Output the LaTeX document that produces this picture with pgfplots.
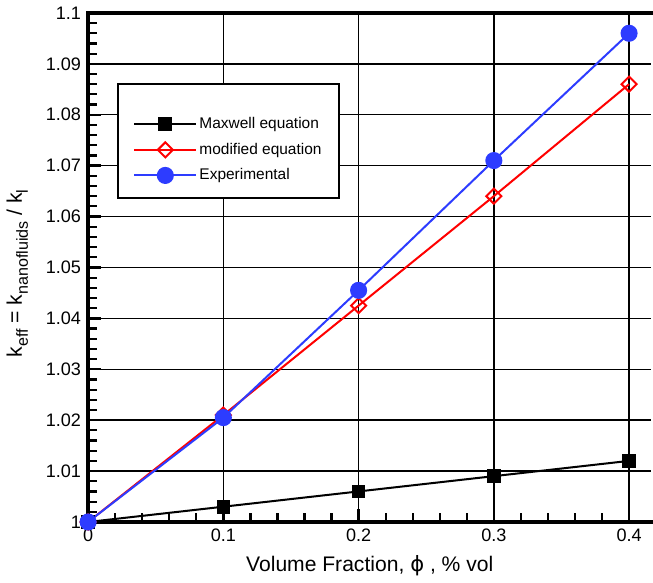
\documentclass[border=0pt]{standalone}
\usepackage{fontspec}
\setmainfont{Liberation Sans}
\newfontfamily\dejavu{DejaVu Sans}
\usepackage{pgfplots}
\pgfplotsset{compat=1.18}
\definecolor{expblue}{RGB}{45,60,255}
\newcommand{\sub}[1]{\raisebox{-0.28em}{\fontsize{8}{9}\selectfont #1}}
\pgfplotsset{
  lineimage/.style={legend image code/.code={
      \draw[mark repeat=2, mark phase=2, ##1] plot coordinates {(0pt,0pt) (15.5pt,0pt) (31pt,0pt)};}},
  tallimage/.style={legend image code/.code={
      \path (0pt,14.5pt);
      \draw[mark repeat=2, mark phase=2, ##1] plot coordinates {(0pt,0pt) (15.5pt,0pt) (31pt,0pt)};}},
}

\begin{document}
\begin{tikzpicture}
\begin{axis}[
    scale only axis,
    width=280.5pt,
    height=253.5pt,
    xmin=0, xmax=0.4165,
    ymin=1, ymax=1.1,
    clip=false,
    xtick={0,0.1,0.2,0.3,0.4},
    ytick={1,1.01,1.02,1.03,1.04,1.05,1.06,1.07,1.08,1.09,1.1},
    minor xtick={0.02,0.04,0.06,0.08,0.12,0.14,0.16,0.18,0.22,0.24,0.26,0.28,0.32,0.34,0.36,0.38},
    minor ytick={1.002,1.004,1.006,1.008,1.012,1.014,1.016,1.018,1.022,1.024,1.026,1.028,
                 1.032,1.034,1.036,1.038,1.042,1.044,1.046,1.048,1.052,1.054,1.056,1.058,
                 1.062,1.064,1.066,1.068,1.072,1.074,1.076,1.078,1.082,1.084,1.086,1.088,
                 1.092,1.094,1.096,1.098},
    xticklabels={0,0.1,0.2,0.3,0.4},
    yticklabels={1,1.01,1.02,1.03,1.04,1.05,1.06,1.07,1.08,1.09,1.1},
    xtick pos=bottom, ytick pos=left,
    tick align=inside,
    major tick length=6pt,
    minor tick length=4pt,
    xtick style={draw=black, line width=1.1pt},
    ytick style={draw=black, line width=1.1pt},
    axis line style={draw=none},
    grid=major,
    major grid style={black, line width=0.75pt},
    ticklabel style={font=\fontsize{9}{10}\selectfont},
    /pgf/number format/assume math mode=true,
    xlabel={Volume Fraction, {\dejavu ϕ} , \% vol},
    ylabel={k\sub{eff} = k\sub{nanofluids} / k\sub{l}},
    label style={font=\fontsize{10.5}{12}\selectfont},
    ylabel style={yshift=2pt, xshift=-3pt},
    legend style={at={(0.0517,0.862)}, anchor=north west, draw=black, line width=0.9pt,
        fill=white, font=\fontsize{7.7}{9}\selectfont,
        inner xsep=7.5pt, inner ysep=5pt, row sep=0pt,
        nodes={inner xsep=1pt, inner ysep=0pt, text height=8.5pt, text depth=4.25pt}},
    legend cell align=left,
    lineimage,
]
\addplot[black, line width=1pt, mark=square*, mark size=2.9pt, mark options={solid, fill=black}, tallimage]
  coordinates {(0,1) (0.1,1.003) (0.2,1.006) (0.3,1.009) (0.4,1.012)};
\addplot[red, line width=1pt, mark=square, mark size=2.65pt, mark options={solid, rotate=45, fill=white, line width=1pt}]
  coordinates {(0,1) (0.1,1.021) (0.2,1.0425) (0.3,1.064) (0.4,1.086)};
\addplot[expblue, line width=1pt, mark=*, mark size=3.75pt, mark options={solid, fill=expblue}]
  coordinates {(0,1) (0.1,1.0205) (0.2,1.0455) (0.3,1.071) (0.4,1.096)};
\legend{Maxwell equation, modified equation, Experimental}
% tick marks (inside)
\pgfplotsinvokeforeach{0.02,0.04,0.06,0.08,0.12,0.14,0.16,0.18,0.22,0.24,0.26,0.28,0.32,0.34,0.36,0.38}{
  \draw[black, line width=1.1pt] (axis cs:#1,1) -- ++(0pt,4.5pt);
}
\pgfplotsinvokeforeach{0.1,0.2,0.3,0.4}{
  \draw[black, line width=1.2pt] (axis cs:#1,1) -- ++(0pt,6.5pt);
}
\pgfplotsinvokeforeach{1.002,1.004,1.006,1.008,1.012,1.014,1.016,1.018,1.022,1.024,1.026,1.028,
                 1.032,1.034,1.036,1.038,1.042,1.044,1.046,1.048,1.052,1.054,1.056,1.058,
                 1.062,1.064,1.066,1.068,1.072,1.074,1.076,1.078,1.082,1.084,1.086,1.088,
                 1.092,1.094,1.096,1.098}{
  \draw[black, line width=1.1pt] (axis cs:0,#1) -- ++(4.5pt,0pt);
}
\pgfplotsinvokeforeach{1.01,1.02,1.03,1.04,1.05,1.06,1.07,1.08,1.09}{
  \draw[black, line width=1.2pt] (axis cs:0,#1) -- ++(6.5pt,0pt);
}
\draw[line width=1.6pt, line cap=rect] (rel axis cs:1,1) -- (rel axis cs:0,1) -- (rel axis cs:0,0) -- (rel axis cs:1,0);
\end{axis}
\end{tikzpicture}
\end{document}
